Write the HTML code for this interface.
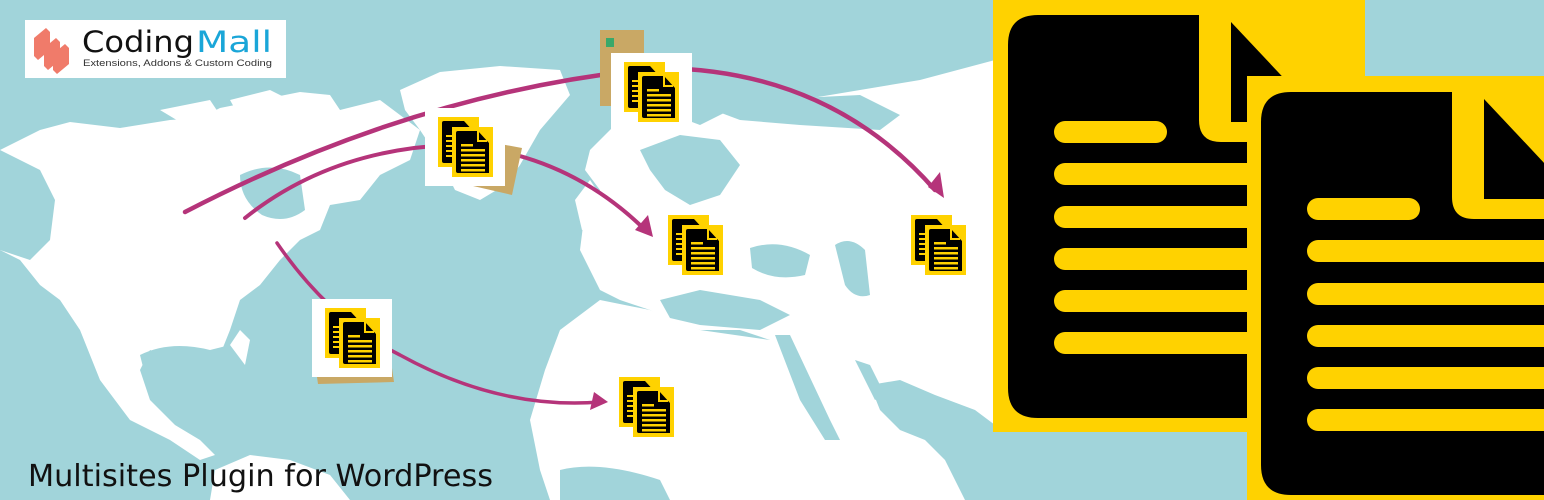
<!DOCTYPE html>
<html><head><meta charset="utf-8"><style>
html,body{margin:0;padding:0;}
body{width:1544px;height:500px;overflow:hidden;background:#a1d4da;position:relative;font-family:"Liberation Sans",sans-serif;}
svg{position:absolute;left:0;top:0;}
</style></head><body>
<svg width="1544" height="500" viewBox="0 0 1544 500" xmlns="http://www.w3.org/2000/svg">
<defs>
<g id="sd">
  <rect x="0" y="0" width="41" height="50" fill="#ffd200"/>
  <path d="M6 4 H26 L37 16 V46 H6 Q4 46 4 44 V6 Q4 4 6 4Z" fill="#000"/>
  <rect x="8" y="18" width="8" height="2" fill="#ffd200"/><rect x="8" y="23" width="8" height="2" fill="#ffd200"/>
  <rect x="8" y="28" width="8" height="2" fill="#ffd200"/><rect x="8" y="33" width="8" height="2" fill="#ffd200"/>
  <rect x="8" y="38" width="8" height="2" fill="#ffd200"/>
  <g transform="translate(14,10)">
    <rect x="0" y="0" width="41" height="50" fill="#ffd200"/>
    <path d="M6 4 H26 L37 16 V46 H6 Q4 46 4 44 V6 Q4 4 6 4Z" fill="#000"/>
    <path d="M26 4 V14 H35" fill="none" stroke="#ffd200" stroke-width="2"/>
    <rect x="9" y="17" width="12" height="2.5" fill="#ffd200"/>
    <rect x="9" y="22" width="24" height="2.5" fill="#ffd200"/><rect x="9" y="27" width="24" height="2.5" fill="#ffd200"/>
    <rect x="9" y="32" width="24" height="2.5" fill="#ffd200"/><rect x="9" y="37" width="24" height="2.5" fill="#ffd200"/>
    <rect x="9" y="42" width="24" height="2.5" fill="#ffd200"/>
  </g>
</g>
<g id="bd">
  <path d="M1038 15 H1199 V120 Q1199 142 1221 142 H1330 V418 H1038 Q1008 418 1008 388 V45 Q1008 15 1038 15Z" fill="#000"/>
  <path d="M1231 22 L1231 122 L1325 122Z" fill="#000"/>
  <g fill="#ffd200">
    <rect x="1054" y="121" width="113" height="22" rx="11"/>
    <rect x="1054" y="163" width="300" height="22" rx="11"/>
    <rect x="1054" y="206" width="300" height="22" rx="11"/>
    <rect x="1054" y="248" width="300" height="22" rx="11"/>
    <rect x="1054" y="290" width="300" height="22" rx="11"/>
    <rect x="1054" y="332" width="300" height="22" rx="11"/>
  </g>
</g>
</defs>
<!-- continents -->
<g fill="#fff">
  <!-- North America -->
  <path d="M0 150 L40 130 L70 122 L120 128 L170 120 L200 118 L220 108 L260 100 L300 92 L330 95 L340 110 L380 100 L400 115 L420 130 L410 160 L380 175 L360 200 L330 205 L320 230 L300 240 L280 260 L260 285 L240 300 L230 330 L220 355 L210 380 L190 385 L175 360 L150 350 L140 370 L150 400 L175 425 L200 440 L215 455 L200 460 L170 440 L130 420 L100 380 L80 330 L60 300 L40 285 L20 260 L0 250Z"/>
  <path d="M0 250 L0 150 L40 170 L55 200 L50 240 L30 260Z" fill="#a1d4da"/>
  <path d="M240 175 Q270 160 300 175 L305 210 Q285 225 262 215 Q240 200 240 175Z" fill="#a1d4da"/>
  <path d="M230 100 L270 90 L300 105 L280 120 L240 118Z" />
  <path d="M160 110 L210 100 L220 115 L180 122Z"/>
  <!-- Greenland -->
  <path d="M400 90 L440 72 L500 66 L560 70 L570 95 L540 130 L520 165 L505 185 L480 200 L455 190 L440 160 L420 130 L405 110Z"/>
  <!-- South America -->
  <path d="M215 470 L250 455 L290 460 L330 475 L350 500 L210 500Z"/>
  <!-- Eurasia -->
  <path d="M590 150 L620 120 L660 110 L700 125 L740 105 L800 100 L860 90 L920 80 L995 60 L995 500 L770 500 L770 340 L740 330 L700 330 L670 320 L650 310 L620 300 L600 290 L580 250 L585 210 L600 190 L585 170Z"/>
  <path d="M640 150 L680 135 L720 140 L740 165 L720 195 L690 205 L665 190 L650 170Z" fill="#a1d4da"/>
  <path d="M700 105 L760 100 L860 95 L900 115 L880 130 L800 125 L740 120Z" fill="#a1d4da"/>
  <path d="M750 248 Q780 238 810 255 L805 275 Q775 282 752 268Z" fill="#a1d4da"/>
  <path d="M835 245 Q850 235 865 250 L870 295 Q855 300 845 285Z" fill="#a1d4da"/>
  <path d="M870 385 L900 380 L935 395 L975 410 L995 425 L995 500 L965 500 L945 460 L925 440 L900 430 L880 410Z" fill="#a1d4da"/>
  <path d="M855 360 L870 365 L885 395 L875 400Z" fill="#a1d4da"/>
  <!-- Africa -->
  <path d="M560 330 L600 300 L650 310 L700 330 L770 340 L790 400 L810 450 L830 500 L550 500 L540 470 L530 420 L545 370Z"/>
  <path d="M560 470 Q600 460 660 480 L670 500 L560 500Z" fill="#a1d4da"/>
  <path d="M660 300 L700 290 L760 300 L790 315 L760 330 L700 325 L670 318Z" fill="#a1d4da"/>
  <path d="M775 335 L790 335 L830 420 L840 440 L825 440 L800 400Z" fill="#a1d4da"/>
  <!-- UK -->
  <path d="M575 200 L590 180 L600 195 L598 225 L582 230Z"/>
</g>
<!-- Gulf of Mexico -->
<path d="M140 355 Q170 340 210 350 L230 345 L240 380 L215 395 L200 420 L175 420 L150 395Z" fill="#a1d4da"/>
<path d="M230 345 L240 330 L250 340 L245 365Z" fill="#fff"/>
<!-- arcs -->
<g fill="none" stroke="#b5347a" stroke-linecap="round">
  <path d="M185 212 Q420 90 660 68 Q830 70 935 190" stroke-width="4.5"/>
  <path d="M245 218 Q330 150 450 145 Q560 150 640 225" stroke-width="4"/>
  <path d="M277 243 Q330 320 400 355 Q500 410 600 402" stroke-width="3.5"/>
</g>
<g fill="#b5347a">
  <path d="M944 198 L928 187 L940 172Z"/>
  <path d="M653 237 L635 230 L648 215Z"/>
  <path d="M608 402 L590 410 L594 392Z"/>
</g>
<!-- tan packages -->
<rect x="600" y="30" width="44" height="76" fill="#c9a865"/>
<rect x="606" y="38" width="8" height="9" fill="#3aa86a"/>
<path d="M468 138 L522 148 L512 195 L460 183Z" fill="#c9a865"/>
<path d="M316 370 L392 368 L394 382 L318 384Z" fill="#c9a865"/>
<!-- white boxes -->
<rect x="611" y="53" width="81" height="78" fill="#fff"/>
<rect x="425" y="108" width="80" height="78" fill="#fff"/>
<rect x="655" y="214" width="80" height="70" fill="#fff"/>
<rect x="312" y="299" width="80" height="78" fill="#fff"/>
<use href="#sd" x="624" y="62"/>
<use href="#sd" x="438" y="117"/>
<use href="#sd" x="668" y="215"/>
<use href="#sd" x="325" y="308"/>
<use href="#sd" x="911" y="215"/>
<use href="#sd" x="619" y="377"/>
<!-- big docs -->
<rect x="993" y="0" width="372" height="432" fill="#ffd200"/>
<use href="#bd"/>
<rect x="1247" y="76" width="297" height="424" fill="#ffd200"/>
<g transform="translate(253,77)"><use href="#bd"/></g>
<!-- logo -->
<rect x="25" y="20" width="261" height="58" fill="#fff"/>
<g fill="#f07b6a">
  <path d="M34 38 L46 28 L50 32 L50 50 L38 60 L34 56Z"/>
  <path d="M44 48 L56 38 L60 42 L60 60 L48 70 L44 66Z"/>
  <path d="M53 58 L65 48 L69 52 L69 68 L57 78 L53 74Z" transform="translate(0,-4)"/>
</g>
<text x="82" y="52" font-size="29" fill="#111" font-family="'DejaVu Sans',sans-serif" textLength="112" lengthAdjust="spacingAndGlyphs">Coding</text>
<text x="196" y="52" font-size="29" fill="#1aa6d8" font-family="'DejaVu Sans',sans-serif" textLength="76" lengthAdjust="spacingAndGlyphs">Mall</text>
<text x="83" y="66" font-size="9" fill="#333" textLength="189" lengthAdjust="spacingAndGlyphs">Extensions, Addons &amp; Custom Coding</text>
<!-- title -->
<text x="28" y="486" font-size="30" fill="#111" font-family="'DejaVu Sans',sans-serif" textLength="465" lengthAdjust="spacingAndGlyphs">Multisites Plugin for WordPress</text>
</svg>
</body></html>
